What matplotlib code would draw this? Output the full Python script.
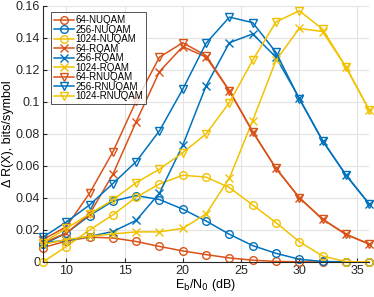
import numpy as np
import matplotlib
matplotlib.use("Agg")
import matplotlib.pyplot as plt

plt.rcParams["font.family"] = ["Liberation Sans", "DejaVu Sans"]

# Eb/N0 grid (dB)
ebn0 = [8, 10, 12, 14, 16, 18, 20, 22, 24, 26, 28, 30, 32, 34, 36]

# rate gap Delta R(X), bits/symbol
nuqam_64 = [0.009, 0.013, 0.0155, 0.015, 0.0128, 0.0097, 0.0069, 0.0046, 0.0025,
            0.0011, 0.0003, 0.0001, 0.0, 0.0, 0.0]
nuqam_256 = [0.011, 0.018, 0.029, 0.038, 0.0415, 0.039, 0.033, 0.0256, 0.0173,
             0.0102, 0.0054, 0.0017, 0.0003, 0.0001, 0.0]
nuqam_1024 = [0.0, 0.0096, 0.020, 0.0294, 0.0405, 0.0487, 0.0542, 0.053, 0.0465,
              0.0356, 0.0246, 0.0127, 0.0037, 0.0002, 0.0001]
rqam_64 = [0.012, 0.018, 0.030, 0.0548, 0.0877, 0.119, 0.1346, 0.128, 0.107,
           0.0814, 0.0585, 0.0402, 0.0267, 0.0173, 0.0112]
rqam_256 = [0.012, 0.0135, 0.016, 0.019, 0.026, 0.043, 0.073, 0.110, 0.137,
            0.1425, 0.128, 0.1023, 0.0758, 0.0544, 0.0363]
rqam_1024 = [0.011, 0.014, 0.016, 0.0175, 0.0188, 0.0188, 0.021, 0.030, 0.0523,
             0.0883, 0.126, 0.146, 0.144, 0.122, 0.095]
rnuqam_64 = [0.014, 0.022, 0.043, 0.0688, 0.1006, 0.128, 0.137, 0.129, 0.107,
             0.0814, 0.0585, 0.0402, 0.0267, 0.0173, 0.0112]
rnuqam_256 = [0.0155, 0.025, 0.0356, 0.049, 0.0627, 0.082, 0.108, 0.1367, 0.153,
              0.1496, 0.131, 0.102, 0.0758, 0.0544, 0.0363]
rnuqam_1024 = [0.012, 0.021, 0.030, 0.0388, 0.0496, 0.058, 0.0683, 0.080, 0.0996,
               0.126, 0.150, 0.157, 0.1455, 0.122, 0.095]

ORANGE = "#D95319"
BLUE = "#0072BD"
YELLOW = "#F2C200"

series = [
    ("64-NUQAM", nuqam_64, ORANGE, "o"),
    ("256-NUQAM", nuqam_256, BLUE, "o"),
    ("1024-NUQAM", nuqam_1024, YELLOW, "o"),
    ("64-RQAM", rqam_64, ORANGE, "x"),
    ("256-RQAM", rqam_256, BLUE, "x"),
    ("1024-RQAM", rqam_1024, YELLOW, "x"),
    ("64-RNUQAM", rnuqam_64, ORANGE, "v"),
    ("256-RNUQAM", rnuqam_256, BLUE, "v"),
    ("1024-RNUQAM", rnuqam_1024, YELLOW, "v"),
]

fig = plt.figure(figsize=(3.74, 2.97), dpi=100)
ax = fig.add_axes([0.115, 0.118, 0.872, 0.862])

for name, vals, col, mk in series:
    ax.plot(ebn0, vals, color=col, marker=mk, markersize=5.5, markerfacecolor="none",
            markeredgewidth=1.0, linewidth=1.1, label=name, clip_on=False)

ax.set_xlim(8, 36)
ax.set_ylim(0, 0.16)
ax.set_xticks([10, 15, 20, 25, 30, 35])
ax.set_yticks(np.arange(0, 0.161, 0.02))
ax.set_yticklabels(["0", "0.02", "0.04", "0.06", "0.08", "0.1", "0.12", "0.14", "0.16"])
ax.grid(True, color="#E3E3E3", linewidth=0.8)
ax.set_axisbelow(True)
for side in ("top", "right"):
    ax.spines[side].set_visible(False)
for side in ("left", "bottom"):
    ax.spines[side].set_color("#262626")
    ax.spines[side].set_linewidth(0.8)
ax.tick_params(direction="in", length=3, labelsize=9, colors="#262626", pad=2)

ax.set_xlabel(r"E$_\mathrm{b}$/N$_0$ (dB)", fontsize=9, labelpad=0)
ax.set_ylabel("\u0394 R(X), bits/symbol", fontsize=9, labelpad=1)

leg = ax.legend(loc="upper left", bbox_to_anchor=(0.025, 0.975), fontsize=7,
                frameon=True, fancybox=False, edgecolor="#262626", handlelength=2.1,
                handletextpad=0.1, labelspacing=-0.05, borderpad=0.3, borderaxespad=0)
leg.get_frame().set_linewidth(0.7)

fig.savefig("out.png", dpi=100)
